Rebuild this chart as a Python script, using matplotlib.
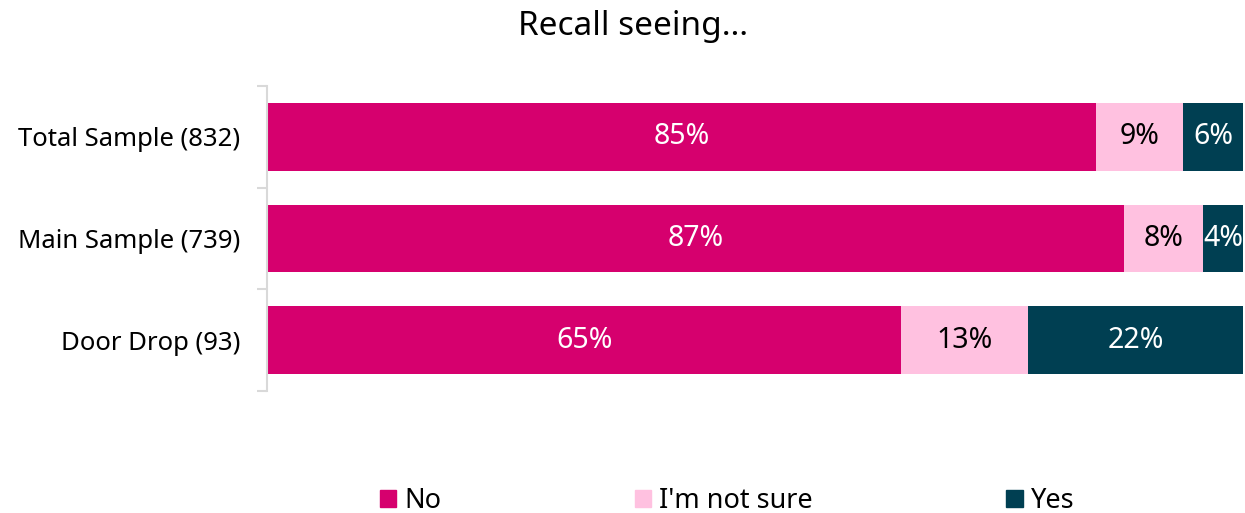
import matplotlib
matplotlib.use("Agg")
import matplotlib.pyplot as plt
from matplotlib.patches import Patch
import numpy as np

categories = ["Total Sample (832)", "Main Sample (739)", "Door Drop (93)"]
series_names = ["No", "I'm not sure", "Yes"]
no_vals = [84.9, 87.8, 65.0]
notsure_vals = [9.0, 8.1, 13.0]
yes_vals = [6.1, 4.1, 22.0]
no_labels = ["85%", "87%", "65%"]
notsure_labels = ["9%", "8%", "13%"]
yes_labels = ["6%", "4%", "22%"]

colors = ["#D6006E", "#FFC1E0", "#003F52"]
text_colors = ["white", "black", "white"]

plt.rcParams['font.family'] = ['Noto Sans', 'DejaVu Sans']

fig = plt.figure(figsize=(12.45, 5.13), dpi=100)
ax = fig.add_axes([267/1245, (513-391)/513, (1243-267)/1245, 305/513])

y = np.arange(len(categories))
left = np.zeros(len(categories))
for vals, labs, c, tc, name in zip([no_vals, notsure_vals, yes_vals],
                                   [no_labels, notsure_labels, yes_labels],
                                   colors, text_colors, series_names):
    bars = ax.barh(y, vals, left=left, height=0.667, color=c, label=name)
    for b, lab in zip(bars, labs):
        ax.text(b.get_x() + b.get_width()/2, b.get_y() + b.get_height()/2, lab,
                ha='center', va='center', color=tc, fontsize=20.5)
    left += np.array(vals)

ax.set_xlim(0, 100)
ax.set_ylim(len(categories) - 0.5, -0.5)
ax.set_yticks(y)
ax.set_yticklabels(categories, fontsize=18.5)
ax.set_yticks(np.arange(-0.5, len(categories)), minor=True)
ax.tick_params(axis='y', which='major', length=0, pad=19)
ax.tick_params(axis='y', which='minor', length=7.5, color='#D9D9D9', width=1.5)
ax.set_xticks([])
for s in ['top', 'right', 'bottom']:
    ax.spines[s].set_visible(False)
ax.spines['left'].set_color('#D9D9D9')
ax.spines['left'].set_linewidth(1.5)

fig.text(633/1245, 1 - 27/513, "Recall seeing…", ha='center', va='center', fontsize=24)

handles = [Patch(color=c) for c in colors]
fig.legend(handles, series_names, loc='center', bbox_to_anchor=(727/1245, 1 - 501/513),
           ncol=3, frameon=False, fontsize=19.5, handlelength=0.6, handleheight=0.6,
           handletextpad=0.3, columnspacing=7.15)

fig.savefig("out.png", dpi=100)
